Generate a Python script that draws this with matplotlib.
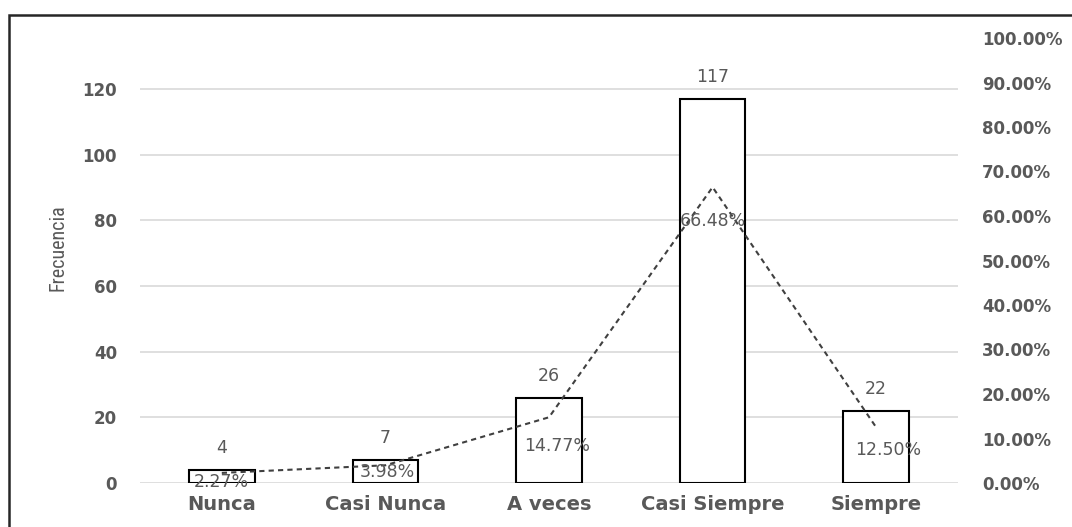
import matplotlib.pyplot as plt
from matplotlib.patches import Rectangle
from matplotlib.ticker import FuncFormatter

# datos de la tabla de frecuencias
categorias = ["Nunca", "Casi Nunca", "A veces", "Casi Siempre", "Siempre"]
frecuencia = [4, 7, 26, 117, 22]
porcentaje = [0.0227, 0.0398, 0.1477, 0.6648, 0.1250]
etiquetas_pct = ["2.27%", "3.98%", "14.77%", "66.48%", "12.50%"]

# desplazamientos (px) de las etiquetas de porcentaje, colocadas a mano como en Excel
desp_pct = [(0, -9), (2, -7), (8, -29), (0, -34), (12, -23)]

gris = "#595959"

fig = plt.figure(figsize=(10.72, 5.27), dpi=100)
ax = fig.add_axes([140 / 1072, 1 - 483 / 527, (958 - 140) / 1072, (483 - 38) / 527])
ax2 = ax.twinx()

x = list(range(len(categorias)))

# barras
ax.bar(x, frecuencia, width=0.4, color="white", edgecolor="black", linewidth=1.5, zorder=3)
ax.set_xlim(-0.5, 4.5)
ax.set_ylim(0, 120 * 445 / 394)
ax.set_yticks(range(0, 121, 20))
ax.grid(axis="y", color="#d9d9d9", linewidth=1.2, zorder=0)
ax.set_axisbelow(True)

for xi, f in zip(x, frecuencia):
    ax.annotate(str(f), (xi, f), xytext=(0, 22 * 0.72), textcoords="offset points",
                ha="center", va="center", fontsize=12.5, color=gris, zorder=5)

# linea de porcentajes
ax2.plot(x, porcentaje, linestyle=(0, (2.5, 2)), color="#404040", linewidth=1.5, zorder=4)
ax2.set_ylim(0, 1)
ax2.set_yticks([i / 10 for i in range(11)])
ax2.yaxis.set_major_formatter(FuncFormatter(lambda v, p: f"{v * 100:.2f}%"))

for xi, p, t, (dx, dy) in zip(x, porcentaje, etiquetas_pct, desp_pct):
    ax2.annotate(t, (xi, p), xytext=(dx * 0.72, dy * 0.72), textcoords="offset points",
                 ha="center", va="center", fontsize=12.5, color=gris, zorder=5)

for a in (ax, ax2):
    for s in a.spines.values():
        s.set_visible(False)
    a.tick_params(length=0)

ax.set_xticks(x)
ax.set_xticklabels(categorias, fontsize=14, fontweight="bold", color=gris)
ax.tick_params(axis="x", pad=9)
ax.tick_params(axis="y", pad=23 * 0.72)
for lab in ax.get_yticklabels():
    lab.set_fontsize(12)
    lab.set_fontweight("bold")
    lab.set_color(gris)
ax2.tick_params(axis="y", pad=24 * 0.72)
for lab in ax2.get_yticklabels():
    lab.set_fontsize(12)
    lab.set_fontweight("bold")
    lab.set_color(gris)

fig.text(58 / 1072, 1 - 248 / 527, "Frecuencia", rotation=90, ha="center", va="center",
         fontsize=14.5, color=gris, family=["Roboto Condensed", "Liberation Sans", "DejaVu Sans"])

# marco del grafico
fig.patches.append(Rectangle((9 / 1072, -0.05), 1.1, 1 - 15 / 527 + 0.05, transform=fig.transFigure,
                             fill=False, edgecolor="#262626", linewidth=1.8))

fig.savefig("out.png", dpi=100)
